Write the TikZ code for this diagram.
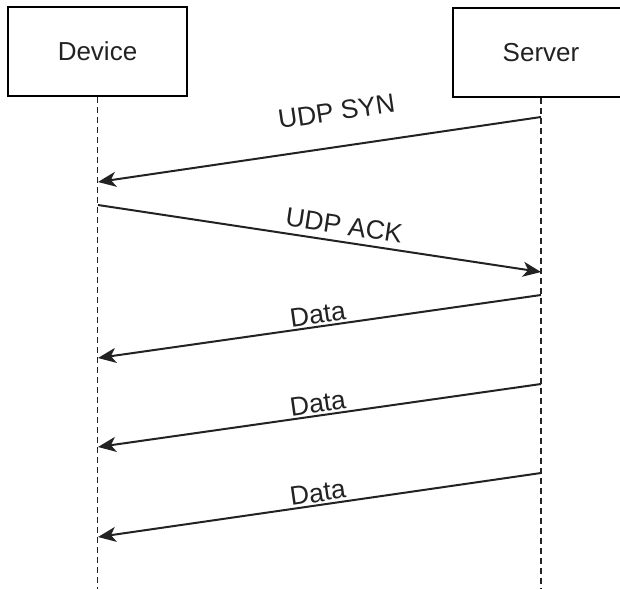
\documentclass[tikz,border=0pt]{standalone}
\usepackage{fontspec}
\setmainfont{Liberation Sans}
\usetikzlibrary{arrows.meta}
\definecolor{ink}{HTML}{222222}
\begin{document}
\begin{tikzpicture}[x=1pt,y=-1pt,
  actor/.style={draw=black, line width=1.8pt, minimum width=179pt, minimum height=89pt,
    font=\fontsize{26}{31}\selectfont, inner sep=0pt, text=ink},
  lifeline/.style={draw=ink, line width=1.3pt, dash pattern=on 6pt off 4pt},
  msg/.style={draw=ink, line width=2pt, -{Stealth[length=18pt,width=15pt,inset=5pt]}},
  lbl/.style={font=\fontsize{26.5}{31}\selectfont, inner sep=0pt, sloped, text=ink}]
\useasboundingbox (0,0) rectangle (620,589);
\node[actor] (dev) at (97.5,51.5) {Device};
\node[actor, minimum width=176pt] (srv) at (541,52.5) {Server};
\coordinate (devEnd) at (97.5,589);
\coordinate (srvEnd) at (541,589);
\draw[lifeline] (dev.south) -- (devEnd);
\draw[lifeline] (srv.south) -- (srvEnd);
% message end points
\coordinate (s1) at (541,117); \coordinate (d1) at (98,182);
\coordinate (d2) at (98,205);  \coordinate (s2) at (541,272);
\coordinate (s3) at (541,295); \coordinate (d3) at (98,358);
\coordinate (s4) at (541,384); \coordinate (d4) at (98,447);
\coordinate (s5) at (541,473); \coordinate (d5) at (98,537);
\draw[msg] (s1) -- node[lbl, pos=0.45, above=25pt] (l1) {UDP SYN} (d1);
\draw[msg] (d2) -- node[lbl, pos=0.55, above=6pt] (l2) {UDP ACK} (s2);
\draw[msg] (s3) -- node[lbl, pos=0.5, above=2pt] (l3) {Data} (d3);
\draw[msg] (s4) -- node[lbl, pos=0.5, above=2pt] (l4) {Data} (d4);
\draw[msg] (s5) -- node[lbl, pos=0.5, above=2pt] (l5) {Data} (d5);
\end{tikzpicture}
\end{document}
